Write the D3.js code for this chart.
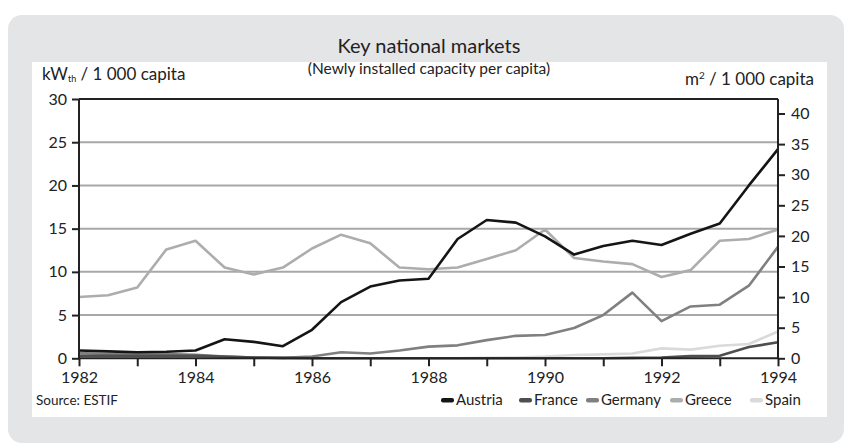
<!DOCTYPE html>
<html>
<head>
<meta charset="utf-8">
<script src="https://cdn.jsdelivr.net/npm/d3@7"></script>
<style>
  html, body { margin: 0; padding: 0; background: #ffffff; }
  svg { display: block; }
  text { font-family: Lato, "Open Sans", sans-serif; fill: #222; }
</style>
</head>
<body>
<svg id="chart" width="846" height="446"></svg>
<script>
// ---- data ----
const years = [1982, 1982.5, 1983, 1983.5, 1984, 1984.5, 1985, 1985.5, 1986, 1986.5,
               1987, 1987.5, 1988, 1988.5, 1989, 1989.5, 1990, 1990.5, 1991, 1991.5,
               1992, 1992.5, 1993, 1993.5, 1994];
const austria = [0.9, 0.8, 0.7, 0.75, 0.9, 2.2, 1.9, 1.4, 3.3, 6.5,
                 8.3, 9.0, 9.2, 13.8, 16.0, 15.7, 14.1, 12.0, 13.0, 13.6,
                 13.1, 14.4, 15.6, 20.0, 24.2];
const france  = [0.3, 0.3, 0.3, 0.3, 0.3, 0.2, 0.1, 0.05, 0.0, 0.0,
                 0.0, 0.0, 0.0, 0.0, 0.0, 0.0, 0.0, 0.0, 0.0, 0.05,
                 0.1, 0.25, 0.3, 1.3, 1.85];
const germany = [0.6, 0.5, 0.5, 0.5, 0.4, 0.2, 0.1, 0.05, 0.2, 0.7,
                 0.55, 0.9, 1.35, 1.5, 2.1, 2.6, 2.7, 3.5, 5.0, 7.6,
                 4.3, 6.0, 6.2, 8.4, 12.9];
const greece  = [7.1, 7.3, 8.2, 12.6, 13.6, 10.5, 9.7, 10.5, 12.7, 14.3,
                 13.3, 10.5, 10.3, 10.5, 11.5, 12.5, 14.9, 11.6, 11.2, 10.9,
                 9.4, 10.2, 13.6, 13.8, 14.9];
const spain   = [0.2, 0.2, 0.15, 0.1, 0.1, 0.05, 0.0, 0.0, 0.0, 0.0,
                 0.0, 0.0, 0.0, 0.0, 0.05, 0.1, 0.2, 0.38, 0.45, 0.55,
                 1.15, 1.0, 1.45, 1.65, 3.1];
const seriesNames = ["Austria", "France", "Germany", "Greece", "Spain"];
const seriesColors = ["#151515", "#4f4f4f", "#808080", "#adadad", "#dadada"];
const leftTicks = [0, 5, 10, 15, 20, 25, 30];
const rightTicks = [0, 5, 10, 15, 20, 25, 30, 35, 40];
const yearTicks = [1982, 1983, 1984, 1985, 1986, 1987, 1988, 1989, 1990, 1991, 1992, 1993, 1994];
const yearLabels = [1982, 1984, 1986, 1988, 1990, 1992, 1994];

const seriesValues = [austria, france, germany, greece, spain];

// ---- layout ----
const svg = d3.select("#chart");
const X0 = 79, X1 = 778, Y0 = 358.3, YTOP = 99;

// backgrounds
svg.append("rect").attr("x", 8).attr("y", 15).attr("width", 836).attr("height", 428)
   .attr("rx", 14).attr("fill", "#e4e5e7");
svg.append("rect").attr("x", 32).attr("y", 62).attr("width", 795).attr("height", 355)
   .attr("fill", "#ffffff");

const x = d3.scaleLinear().domain([1982, 1994]).range([X0, X1]);
const yL = d3.scaleLinear().domain([0, 30]).range([Y0, YTOP]);
const yR = d3.scaleLinear().domain([0, 40]).range([Y0, 113.5]);

// gridlines
svg.append("g").selectAll("line").data(leftTicks.filter(d => d > 0 && d < 30)).join("line")
   .attr("x1", X0).attr("x2", X1)
   .attr("y1", d => yL(d)).attr("y2", d => yL(d))
   .attr("stroke", "#a8a8a8").attr("stroke-width", 2);

// frame top
svg.append("line").attr("x1", X0).attr("x2", X1).attr("y1", yL(30)).attr("y2", yL(30))
   .attr("stroke", "#222").attr("stroke-width", 2);

// lines
const line = d3.line().x((d, i) => x(years[i])).y(d => yL(d)).curve(d3.curveLinear);
const order = [4, 3, 2, 1, 0];
svg.append("g").selectAll("path").data(order).join("path")
   .attr("d", i => line(seriesValues[i]))
   .attr("fill", "none")
   .attr("stroke", i => seriesColors[i])
   .attr("stroke-width", 2.6)
   .attr("stroke-linejoin", "round");

// axes
const fontAxis = "Lato, 'Open Sans', sans-serif";
const leftAxis = d3.axisLeft(yL).tickValues(leftTicks).tickSize(7).tickPadding(5);
const gL = svg.append("g").attr("transform", `translate(${X0},0)`).call(leftAxis);
const rightAxis = d3.axisRight(yR).tickValues(rightTicks).tickSize(7).tickPadding(6);
const gR = svg.append("g").attr("transform", `translate(${X1},0)`).call(rightAxis);
const bottomAxis = d3.axisBottom(x).tickValues(yearTicks).tickSize(8).tickPadding(5)
   .tickFormat(d => yearLabels.includes(d) ? String(d) : "");
const gB = svg.append("g").attr("transform", `translate(0,${Y0})`).call(bottomAxis);

[gL, gR, gB].forEach(g => {
  g.select(".domain").attr("stroke", "#222").attr("stroke-width", 2);
  g.selectAll(".tick line").attr("stroke", "#222").attr("stroke-width", 2);
  g.selectAll(".tick text").attr("font-family", fontAxis).attr("font-size", 16).attr("fill", "#222");
});
gR.select(".domain").attr("d", `M0,${YTOP}V${Y0}`);
gL.select(".domain").attr("d", `M0,${YTOP}V${Y0}`);
gB.select(".domain").attr("d", `M${X0},0H${X1}`);

// titles
svg.append("text").attr("x", 429).attr("y", 53).attr("text-anchor", "middle")
   .attr("font-size", 20).attr("fill", "#111").text("Key national markets");
svg.append("text").attr("x", 429).attr("y", 74).attr("text-anchor", "middle")
   .attr("font-size", 15.5).attr("fill", "#222").text("(Newly installed capacity per capita)");

const lt = svg.append("text").attr("x", 42).attr("y", 80).attr("font-size", 17).attr("fill", "#222");
lt.append("tspan").text("kW");
lt.append("tspan").attr("font-size", 9).attr("dy", 2).text("th");
lt.append("tspan").attr("dy", -2).text(" / 1 000 capita");

const rt = svg.append("text").attr("x", 814).attr("y", 85).attr("text-anchor", "end")
   .attr("font-size", 17).attr("fill", "#222");
rt.append("tspan").text("m");
rt.append("tspan").attr("font-size", 10).attr("dy", -6).text("2");
rt.append("tspan").attr("dy", 6).text(" / 1 000 capita");

svg.append("text").attr("x", 36).attr("y", 405).attr("font-size", 13.5).attr("fill", "#222")
   .text("Source: ESTIF");

// legend
const legendX = [441, 519, 586, 670, 750];
const lg = svg.append("g").selectAll("g").data(seriesNames).join("g")
   .attr("transform", (d, i) => `translate(${legendX[i]},405)`);
lg.append("rect").attr("x", 0).attr("y", -7).attr("width", 13).attr("height", 4.5)
   .attr("rx", 2).attr("fill", (d, i) => seriesColors[i]);
lg.append("text").attr("x", 15).attr("y", 0).attr("font-size", 15).attr("fill", "#222")
   .text(d => d);
</script>
</body>
</html>
